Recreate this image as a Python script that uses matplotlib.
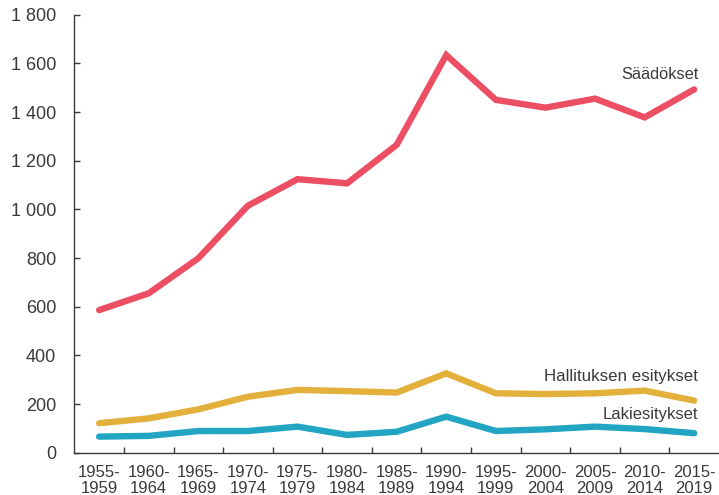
import matplotlib
matplotlib.use('Agg')
import matplotlib.pyplot as plt
import numpy as np

plt.rcParams['font.family'] = ['Liberation Sans', 'DejaVu Sans']

kaudet = ['1955-\n1959', '1960-\n1964', '1965-\n1969', '1970-\n1974', '1975-\n1979',
          '1980-\n1984', '1985-\n1989', '1990-\n1994', '1995-\n1999', '2000-\n2004',
          '2005-\n2009', '2010-\n2014', '2015-\n2019']
saadokset = [586, 655, 799, 1015, 1124, 1107, 1265, 1634, 1450, 1418, 1455, 1378, 1493]
hallituksen_esitykset = [121, 141, 178, 230, 258, 253, 247, 326, 244, 241, 244, 255, 214]
lakiesitykset = [66, 69, 89, 89, 107, 73, 86, 148, 89, 96, 107, 97, 80]

punainen = '#EC4F63'
keltainen = '#E3B03C'
sininen = '#22A5C3'
teksti = '#3a3a3a'

fig = plt.figure(figsize=(7.19, 4.95), dpi=100)
ax = fig.add_axes([0.1034, 0.0855, 0.8966, 0.8848])

x = np.arange(len(kaudet))
ax.plot(x, saadokset, color=punainen, lw=4.6, solid_capstyle='round', solid_joinstyle='miter')
ax.plot(x, hallituksen_esitykset, color=keltainen, lw=4.6, solid_capstyle='round', solid_joinstyle='miter')
ax.plot(x, lakiesitykset, color=sininen, lw=4.6, solid_capstyle='round', solid_joinstyle='miter')

ax.text(12.08, 1556, 'Säädökset', ha='right', va='center', fontsize=11.8, color=teksti)
ax.text(12.08, 315, 'Hallituksen esitykset', ha='right', va='center', fontsize=12.2, color=teksti)
ax.text(12.08, 155, 'Lakiesitykset', ha='right', va='center', fontsize=12, color=teksti)

ax.set_xlim(-0.5, 12.5)
ax.set_ylim(0, 1800)
ax.set_yticks(np.arange(0, 1801, 200))
ax.set_yticklabels([f'{v:,}'.replace(',', ' ') for v in range(0, 1801, 200)])
ax.set_xticks(x)
ax.set_xticklabels(kaudet, linespacing=1.05)
ax.set_xticks(np.arange(0.5, 12.5, 1), minor=True)

ax.tick_params(axis='x', which='major', length=0, pad=9, labelsize=12, colors=teksti)
ax.tick_params(axis='x', which='minor', direction='in', length=4, width=1, color=teksti)
ax.tick_params(axis='y', direction='in', length=4, width=1, pad=13, labelsize=13, colors=teksti)

for s in ['top', 'right']:
    ax.spines[s].set_visible(False)
for s in ['left', 'bottom']:
    ax.spines[s].set_color(teksti)
    ax.spines[s].set_linewidth(1)

fig.savefig('out.png', dpi=100)
